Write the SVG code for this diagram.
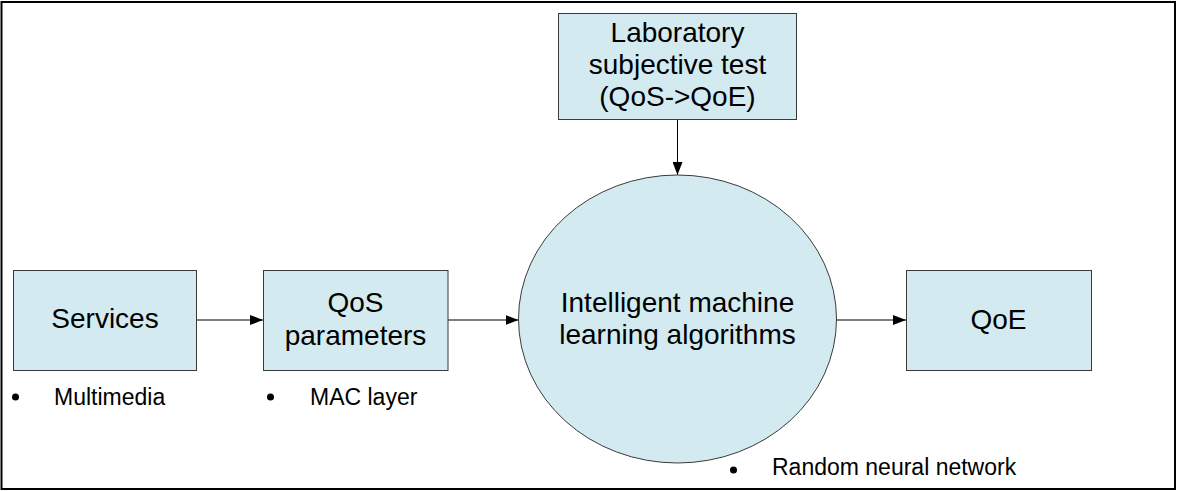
<svg xmlns="http://www.w3.org/2000/svg" width="1177" height="491" viewBox="0 0 1177 491">
<style>
.node{fill:#D3EAF0;stroke:#3a3a3a;stroke-width:1}
.big{font-family:"Liberation Sans",Arial,sans-serif;font-size:28px;fill:#000;text-anchor:middle}
.small{font-family:"Liberation Sans",Arial,sans-serif;font-size:23px;fill:#000}
.conn{stroke:#000;stroke-width:1;fill:none;marker-end:url(#ah)}
</style>
<defs>
<marker id="ah" markerUnits="userSpaceOnUse" markerWidth="13" markerHeight="10" refX="13" refY="5" orient="auto">
<path d="M0,0 L13,5 L0,10 z" fill="#000"/>
</marker>
</defs>
<rect x="0" y="0" width="1177" height="491" fill="#fff"/>
<rect x="1.5" y="2" width="1173.5" height="487" fill="none" stroke="#000" stroke-width="2"/>
<g id="connectors">
<line class="conn" x1="197" y1="320" x2="263" y2="320"/>
<line class="conn" x1="448" y1="320" x2="518.5" y2="320"/>
<line class="conn" x1="836.5" y1="320" x2="906" y2="320"/>
<line class="conn" x1="677.5" y1="120" x2="677.5" y2="175"/>
</g>
<g id="lab">
<rect class="node" x="558.5" y="13.5" width="238" height="106"/>
<text class="big" x="677.5" y="42">Laboratory</text>
<text class="big" x="677.5" y="74">subjective test</text>
<text class="big" x="677.5" y="106">(QoS-&gt;QoE)</text>
</g>
<g id="services">
<rect class="node" x="13.5" y="270.5" width="183" height="100"/>
<text class="big" x="105" y="328">Services</text>
<circle cx="15.5" cy="397" r="3.5" fill="#000"/>
<text class="small" x="54" y="405">Multimedia</text>
</g>
<g id="qos">
<rect class="node" x="263.5" y="270.5" width="184.5" height="100"/>
<text class="big" x="355.5" y="312">QoS</text>
<text class="big" x="355.5" y="345">parameters</text>
<circle cx="270.5" cy="397" r="3.5" fill="#000"/>
<text class="small" x="310" y="405">MAC layer</text>
</g>
<g id="ml">
<ellipse class="node" cx="677.5" cy="319" rx="159" ry="144"/>
<text class="big" x="677.5" y="312">Intelligent machine</text>
<text class="big" x="677.5" y="344">learning algorithms</text>
<circle cx="733.5" cy="470" r="3.5" fill="#000"/>
<text class="small" x="772" y="475">Random neural network</text>
</g>
<g id="qoe">
<rect class="node" x="906.5" y="270.5" width="185" height="100"/>
<text class="big" x="998.5" y="329">QoE</text>
</g>
</svg>
